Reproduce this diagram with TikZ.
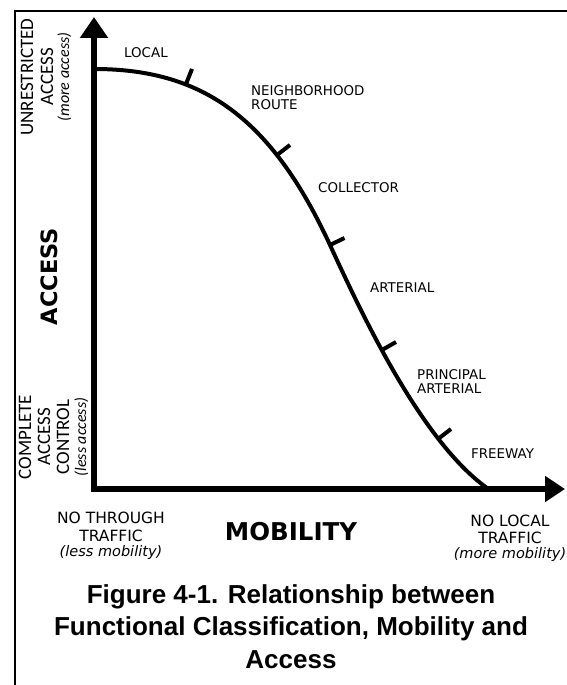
\documentclass[tikz,border=0pt]{standalone}
\usepackage{fontspec}
\setmainfont{DejaVu Sans}
\newfontfamily\ladofont{Carlito}
\newfontfamily\titulofont{Liberation Sans}
\usetikzlibrary{arrows.meta}

\begin{document}
\begin{tikzpicture}[x=1pt, y=-1pt,
		eje/.style={line width=5.5pt, {Triangle[length=21pt,width=27pt]}-{Triangle[length=20pt,width=25pt]}},
		curva/.style={line width=4pt},
		marca/.style={line width=4pt},
		clase/.style={anchor=base west, inner sep=0pt, font=\fontsize{13.4}{15}\selectfont},
		pie/.style={anchor=base, inner sep=0pt, font=\fontsize{15.5}{17}\selectfont},
		piecita/.style={anchor=base, inner sep=0pt, font=\itshape\fontsize{14.5}{16}\selectfont},
		lado/.style={anchor=base, rotate=90, inner sep=0pt, font=\ladofont\fontsize{19}{20}\selectfont},
		ladocita/.style={anchor=base, rotate=90, inner sep=0pt, font=\ladofont\itshape\fontsize{16}{17}\selectfont},
		titulo/.style={anchor=base, inner sep=0pt, font=\titulofont\bfseries\fontsize{26}{30}\selectfont}]
	\useasboundingbox (0,0) rectangle (567,685);
	
	% Marco
		\draw[line width=2pt] (15,685) -- (15,11) -- (567,11);
	
	% Ejes
		\draw[eje] (94,17) -- (94,489) -- (565,489);
	
	% Curva
		\draw[curva] (94,69) .. controls (200,69) and (270,115) .. (330,245) .. controls (360,310) and (420,440) .. (487,488);
	
	% Marcas entre clases
		\foreach \x/\y/\dx/\dy in {186/84/6/-15, 277/155/13/-10, 330/245/14.5/-7, 382/350/14/-8, 438/439/13/-10}
			\draw[marca] (\x,\y) -- ++(\dx,\dy);
	
	% Clases
		\node[clase] (local) at (124,57.5) {LOCAL};
		\node[clase] (vecinal) at (251,95) {NEIGHBORHOOD};
		\node[clase] (vecinalb) at (251,109.5) {ROUTE};
		\node[clase] (colector) at (318,192) {COLLECTOR};
		\node[clase] (arterial) at (370,292) {ARTERIAL};
		\node[clase] (principal) at (417,379) {PRINCIPAL};
		\node[clase] (principalb) at (417,393) {ARTERIAL};
		\node[clase] (autopista) at (471,458) {FREEWAY};
	
	% Eje vertical: acceso
		\node[anchor=base, rotate=90, inner sep=0pt, font=\bfseries\fontsize{22.5}{24}\selectfont] (acceso) at (57,276.5) {ACCESS};
		\node[lado] (irrestricto) at (33,77) {UNRESTRICTED};
		\node[lado] (irrestrictob) at (53,77) {ACCESS};
		\node[ladocita] (irrestrictoc) at (69,77) {(more access)};
		\node[lado] (control) at (31,437) {COMPLETE};
		\node[lado] (controlb) at (50,437) {ACCESS};
		\node[lado] (controlc) at (69,437) {CONTROL};
		\node[ladocita] (controld) at (86,437) {(less access)};
	
	% Eje horizontal: movilidad
		\node[anchor=base, inner sep=0pt, font=\bfseries\fontsize{24.5}{26}\selectfont] (movilidad) at (291,540) {MOBILITY};
		\node[pie] (paso) at (111,523) {NO THROUGH};
		\node[pie] (pasob) at (111,541) {TRAFFIC};
		\node[piecita] (pasoc) at (111,556) {(less mobility)};
		\node[pie] (localt) at (510,526) {NO LOCAL};
		\node[pie] (localtb) at (510,543) {TRAFFIC};
		\node[piecita] (localtc) at (510,558) {(more mobility)};
	
	% Titulo
		\node[titulo] (tit) at (291,603) {Figure 4-1. Relationship between};
		\node[titulo] (titb) at (291,635) {Functional Classification, Mobility and};
		\node[titulo] (titc) at (291,668) {Access};
\end{tikzpicture}
\end{document}
